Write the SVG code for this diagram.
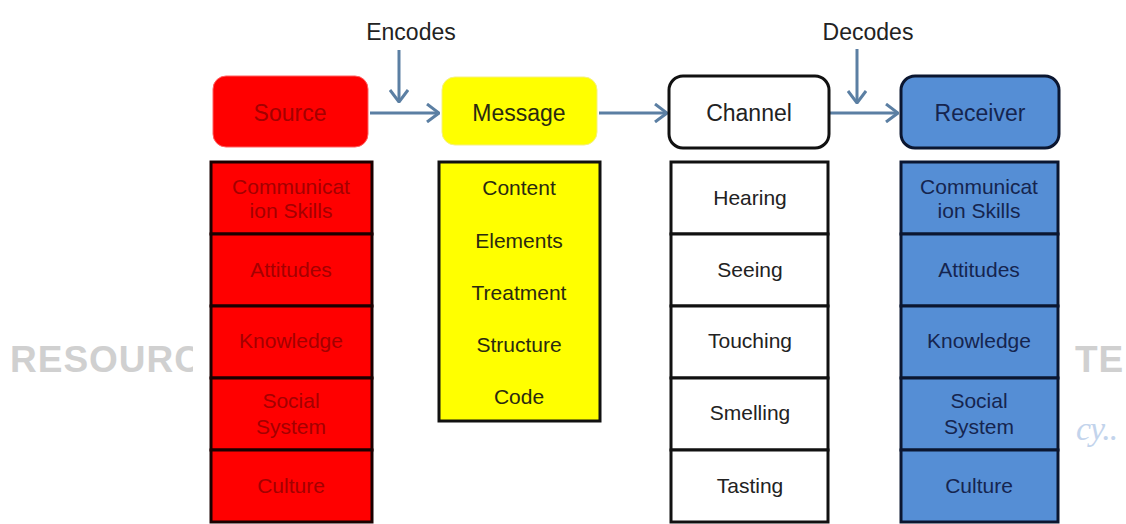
<svg xmlns="http://www.w3.org/2000/svg" width="1126" height="524" viewBox="0 0 1126 524">
<style>
text{font-family:"Liberation Sans",Arial,sans-serif;text-anchor:middle}
.hd{font-size:23px}
.rw{font-size:21px}
.lbl{font-size:23px;fill:#222}
.wm{font-family:"Liberation Sans",Arial,sans-serif;font-weight:bold;font-size:37px;fill:#d0d0d0;text-anchor:start;letter-spacing:1px}
.red{fill:#ff0000;stroke:#1a0000;stroke-width:3}
.yel{fill:#ffff00;stroke:#111;stroke-width:3}
.wht{fill:#ffffff;stroke:#111;stroke-width:3}
.blu{fill:#558ed5;stroke:#0b1630;stroke-width:3}
.tr{fill:#a30000}
.ty{fill:#2a2a10}
.tw{fill:#222}
.tb{fill:#15254f}
.arr{stroke:#5b7fa3;stroke-width:3;fill:none;marker-end:url(#ah)}
</style>
<defs>
<marker id="ah" markerUnits="userSpaceOnUse" viewBox="0 0 14 20" refX="13" refY="10" markerWidth="14" markerHeight="20" orient="auto">
<path d="M1,1 L13,10 L1,19" fill="none" stroke="#5b7fa3" stroke-width="3"/>
</marker>
<clipPath id="cl"><rect x="0" y="0" width="193" height="524"/></clipPath>
</defs>
<rect width="1126" height="524" fill="#ffffff"/>
<g id="watermark">
<text class="wm" x="10" y="372" clip-path="url(#cl)">RESOURC</text>
<text class="wm" x="1075" y="372">TE</text>
<text x="1076" y="440" style="font-family:'Liberation Serif',serif;font-style:italic;font-size:34px;fill:#c3d4ec;text-anchor:start;letter-spacing:-1px">cy..</text>
</g>
<g id="connectors">
<line class="arr" x1="370" y1="113" x2="439" y2="113"/>
<line class="arr" x1="599" y1="113" x2="667" y2="113"/>
<line class="arr" x1="830" y1="113" x2="898" y2="113"/>
<line class="arr" x1="399" y1="50" x2="399" y2="102"/>
<line class="arr" x1="857" y1="49" x2="857" y2="103"/>
<text class="lbl" x="411" y="40">Encodes</text>
<text class="lbl" x="868" y="40">Decodes</text>
</g>
<g id="source">
<rect x="213" y="76" width="155" height="71" rx="13" fill="#ff0000" stroke="#ff6060" stroke-width="1"/>
<text class="hd tr" x="290" y="121">Source</text>
</g>
<g id="source-list">
<rect class="red" x="211" y="162" width="161" height="72"/>
<rect class="red" x="211" y="234" width="161" height="72"/>
<rect class="red" x="211" y="306" width="161" height="72"/>
<rect class="red" x="211" y="378" width="161" height="72"/>
<rect class="red" x="211" y="450" width="161" height="72"/>
<text class="rw tr" x="291" y="194">Communicat</text>
<text class="rw tr" x="291" y="218">ion Skills</text>
<text class="rw tr" x="291" y="277">Attitudes</text>
<text class="rw tr" x="291" y="348">Knowledge</text>
<text class="rw tr" x="291" y="408">Social</text>
<text class="rw tr" x="291" y="434">System</text>
<text class="rw tr" x="291" y="493">Culture</text>
</g>
<g id="message">
<rect x="442" y="77" width="155" height="68" rx="13" fill="#ffff00" stroke="#f5f080" stroke-width="1"/>
<text class="hd ty" x="519" y="121">Message</text>
</g>
<g id="message-list">
<rect class="yel" x="439" y="162" width="161" height="259"/>
<text class="rw ty" x="519" y="195">Content</text>
<text class="rw ty" x="519" y="248">Elements</text>
<text class="rw ty" x="519" y="300">Treatment</text>
<text class="rw ty" x="519" y="352">Structure</text>
<text class="rw ty" x="519" y="404">Code</text>
</g>
<g id="channel">
<rect x="669" y="76" width="160" height="72" rx="14" fill="#ffffff" stroke="#111" stroke-width="3"/>
<text class="hd tw" x="749" y="121">Channel</text>
</g>
<g id="channel-list">
<rect class="wht" x="671" y="162" width="157" height="72"/>
<rect class="wht" x="671" y="234" width="157" height="72"/>
<rect class="wht" x="671" y="306" width="157" height="72"/>
<rect class="wht" x="671" y="378" width="157" height="72"/>
<rect class="wht" x="671" y="450" width="157" height="72"/>
<text class="rw tw" x="750" y="205">Hearing</text>
<text class="rw tw" x="750" y="277">Seeing</text>
<text class="rw tw" x="750" y="348">Touching</text>
<text class="rw tw" x="750" y="420">Smelling</text>
<text class="rw tw" x="750" y="493">Tasting</text>
</g>
<g id="receiver">
<rect x="901" y="76" width="158" height="72" rx="14" fill="#558ed5" stroke="#0b1630" stroke-width="3"/>
<text class="hd tb" x="980" y="121">Receiver</text>
</g>
<g id="receiver-list">
<rect class="blu" x="901" y="162" width="157" height="72"/>
<rect class="blu" x="901" y="234" width="157" height="72"/>
<rect class="blu" x="901" y="306" width="157" height="72"/>
<rect class="blu" x="901" y="378" width="157" height="72"/>
<rect class="blu" x="901" y="450" width="157" height="72"/>
<text class="rw tb" x="979" y="194">Communicat</text>
<text class="rw tb" x="979" y="218">ion Skills</text>
<text class="rw tb" x="979" y="277">Attitudes</text>
<text class="rw tb" x="979" y="348">Knowledge</text>
<text class="rw tb" x="979" y="408">Social</text>
<text class="rw tb" x="979" y="434">System</text>
<text class="rw tb" x="979" y="493">Culture</text>
</g>
</svg>
